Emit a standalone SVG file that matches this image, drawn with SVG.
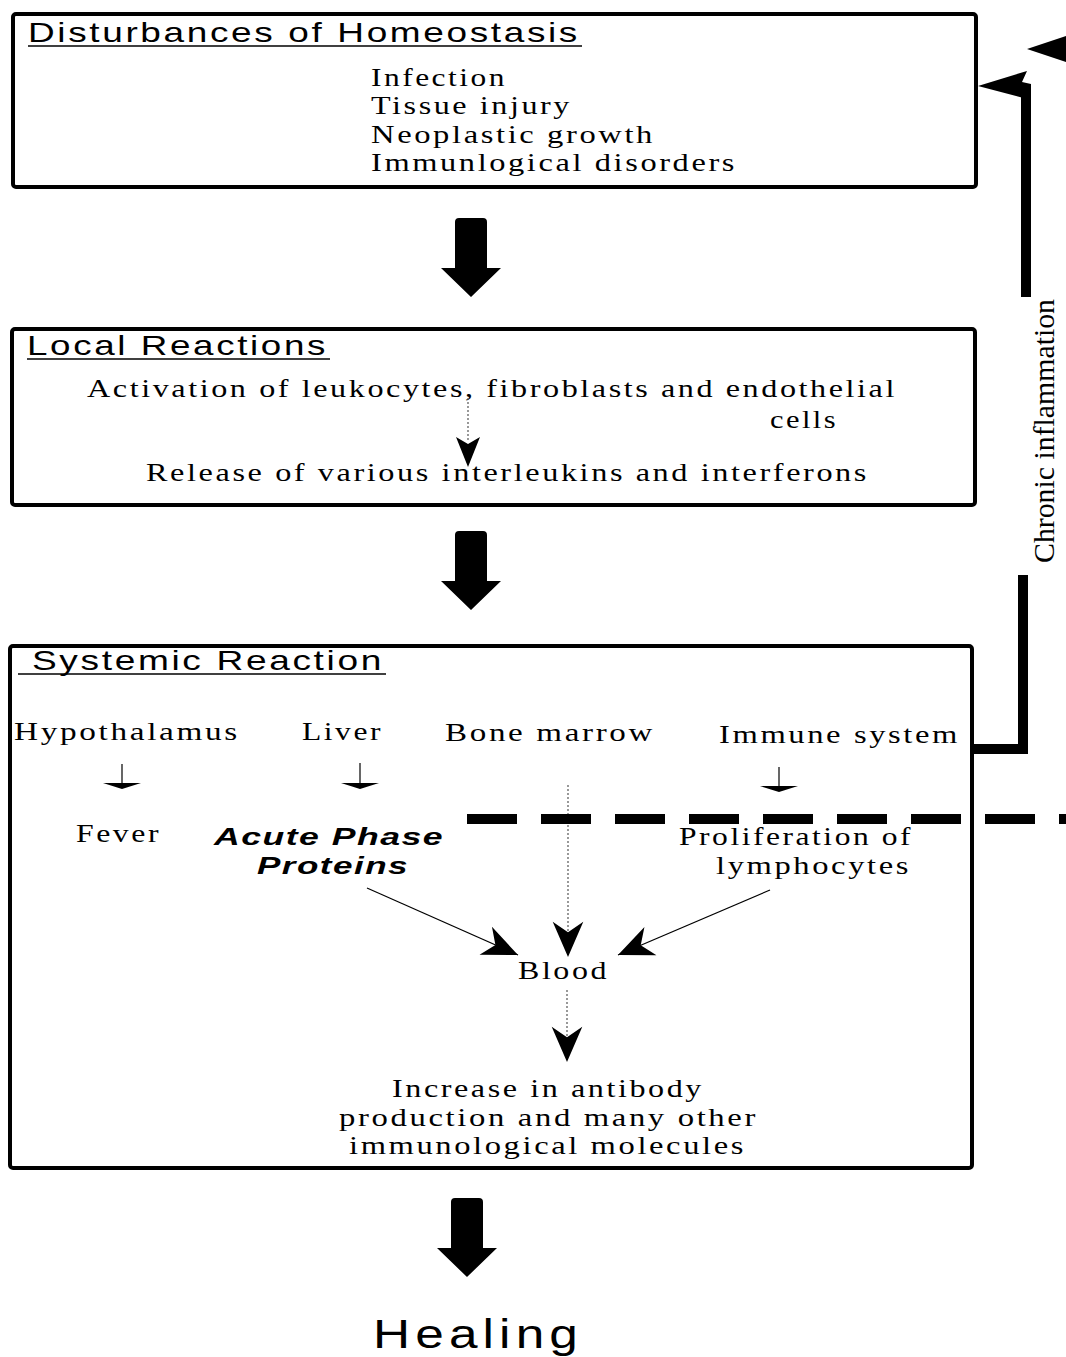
<svg xmlns="http://www.w3.org/2000/svg" width="1066" height="1357" viewBox="0 0 1066 1357">
<style>
.box{fill:none;stroke:#000;stroke-width:4}
.title{font-family:"Liberation Sans",Arial,sans-serif;font-size:28px;letter-spacing:2px;fill:#000}
.ul{stroke:#000;stroke-width:1.6}
.t{font-family:"Liberation Serif","Times New Roman",serif;font-size:25px;letter-spacing:2px;fill:#000}
.bi{font-family:"Liberation Sans",Arial,sans-serif;font-size:24px;font-weight:bold;font-style:italic;letter-spacing:1px;fill:#000}
.thin{stroke:#000;stroke-width:1.2;fill:none}
.dot{stroke:#555;stroke-width:1.2;stroke-dasharray:2 2;fill:none}
.thick{stroke:#000;stroke-width:10;fill:none}
.big{fill:#000}
</style>
<defs>
<marker id="barb" markerUnits="userSpaceOnUse" markerWidth="40" markerHeight="40" viewBox="-32 -16 34 32" refX="0" refY="0" orient="auto">
<path d="M0,0 L-30,-13 L-21,0 L-30,13 Z" fill="#000"/>
</marker>
<path id="bigArrow" d="M-16,4 Q-16,0 -12,0 L12,0 Q16,0 16,4 L16,50 L30,50 L0,79 L-30,50 L-16,50 Z"/>
</defs>

<g id="disturbances">
<rect class="box" x="13" y="14" width="963" height="173" rx="3"/>
<text class="title" x="28" y="42" textLength="552" lengthAdjust="spacingAndGlyphs">Disturbances of Homeostasis</text>
<line class="ul" x1="28" y1="46" x2="582" y2="46"/>
<text class="t" x="371" y="86" textLength="136" lengthAdjust="spacingAndGlyphs">Infection</text>
<text class="t" x="371" y="114" textLength="201" lengthAdjust="spacingAndGlyphs">Tissue injury</text>
<text class="t" x="371" y="143" textLength="284" lengthAdjust="spacingAndGlyphs">Neoplastic growth</text>
<text class="t" x="371" y="171" textLength="366" lengthAdjust="spacingAndGlyphs">Immunlogical disorders</text>
</g>

<g id="local">
<rect class="box" x="12" y="329" width="963" height="176" rx="3"/>
<text class="title" x="27" y="355" textLength="301" lengthAdjust="spacingAndGlyphs">Local Reactions</text>
<line class="ul" x1="27" y1="359" x2="330" y2="359"/>
<text class="t" x="87" y="397" textLength="810" lengthAdjust="spacingAndGlyphs">Activation of leukocytes, fibroblasts and endothelial</text>
<text class="t" x="770" y="428" textLength="68" lengthAdjust="spacingAndGlyphs">cells</text>
<text class="t" x="146" y="481" textLength="723" lengthAdjust="spacingAndGlyphs">Release of various interleukins and interferons</text>
</g>

<g id="systemic">
<rect class="box" x="10" y="646" width="962" height="522" rx="3"/>
<text class="title" x="32" y="670" textLength="352" lengthAdjust="spacingAndGlyphs">Systemic Reaction</text>
<line class="ul" x1="18" y1="674" x2="386" y2="674"/>
</g>

<g id="hypothalamus"><text class="t" x="14" y="740" textLength="226" lengthAdjust="spacingAndGlyphs">Hypothalamus</text></g>
<g id="liver"><text class="t" x="302" y="740" textLength="81" lengthAdjust="spacingAndGlyphs">Liver</text></g>
<g id="bone-marrow"><text class="t" x="445" y="741" textLength="210" lengthAdjust="spacingAndGlyphs">Bone marrow</text></g>
<g id="immune-system"><text class="t" x="719" y="743" textLength="241" lengthAdjust="spacingAndGlyphs">Immune system</text></g>
<g id="fever"><text class="t" x="76" y="842" textLength="85" lengthAdjust="spacingAndGlyphs">Fever</text></g>
<g id="acute-phase-proteins">
<text class="bi" x="214" y="845" textLength="230" lengthAdjust="spacingAndGlyphs">Acute Phase</text>
<text class="bi" x="257" y="874" textLength="152" lengthAdjust="spacingAndGlyphs">Proteins</text>
</g>
<g id="proliferation">
<text class="t" x="679" y="845" textLength="234" lengthAdjust="spacingAndGlyphs">Proliferation of</text>
<text class="t" x="716" y="874" textLength="195" lengthAdjust="spacingAndGlyphs">lymphocytes</text>
</g>
<g id="blood"><text class="t" x="518" y="979" textLength="91" lengthAdjust="spacingAndGlyphs">Blood</text></g>
<g id="increase">
<text class="t" x="392" y="1097" textLength="312" lengthAdjust="spacingAndGlyphs">Increase in antibody</text>
<text class="t" x="339" y="1126" textLength="419" lengthAdjust="spacingAndGlyphs">production and many other</text>
<text class="t" x="349" y="1154" textLength="397" lengthAdjust="spacingAndGlyphs">immunological molecules</text>
</g>
<g id="healing">
<text x="373" y="1348" font-family="'Liberation Sans',Arial,sans-serif" font-size="40" letter-spacing="4" textLength="210" lengthAdjust="spacingAndGlyphs">Healing</text>
</g>

<g id="connectors">
<use href="#bigArrow" class="big" transform="translate(471,218)"/>
<use href="#bigArrow" class="big" transform="translate(471,531)"/>
<use href="#bigArrow" class="big" transform="translate(467,1198)"/>

<line class="dot" x1="468" y1="398" x2="468" y2="440"/>
<path d="M468,467 L456,437 L468,444 L480,437 Z" fill="#000"/>

<line class="thin" x1="122" y1="764" x2="122" y2="786"/>
<path d="M103,783 L141,783 L122,789 Z" fill="#000"/>
<line class="thin" x1="360" y1="763" x2="360" y2="786"/>
<path d="M341,783 L379,783 L360,789 Z" fill="#000"/>
<line class="thin" x1="779" y1="767" x2="779" y2="789"/>
<path d="M760,786 L798,786 L779,792 Z" fill="#000"/>

<line class="dot" x1="568" y1="785" x2="568" y2="957" marker-end="url(#barb)"/>
<line class="thin" x1="367" y1="888" x2="518" y2="955" marker-end="url(#barb)"/>
<line class="thin" x1="770" y1="890" x2="618" y2="955" marker-end="url(#barb)"/>
<line class="dot" x1="567" y1="990" x2="567" y2="1062" marker-end="url(#barb)"/>

<line stroke="#000" stroke-width="10" stroke-dasharray="50 24" x1="467" y1="819" x2="1066" y2="819"/>

<path class="thick" d="M972,749 H1023 V575"/>
<path class="thick" d="M1026,297 V84"/>
<path d="M978,86 L1027,71 L1022,82 L1031,84 L1031,100 Z" fill="#000"/>
<path d="M1027,49 L1066,36 L1066,62 Z" fill="#000"/>
<text x="0" y="0" transform="translate(1054,431) rotate(-90)" text-anchor="middle" font-family="'Liberation Serif','Times New Roman',serif" font-size="30" textLength="264" lengthAdjust="spacingAndGlyphs">Chronic inflammation</text>
</g>
</svg>
